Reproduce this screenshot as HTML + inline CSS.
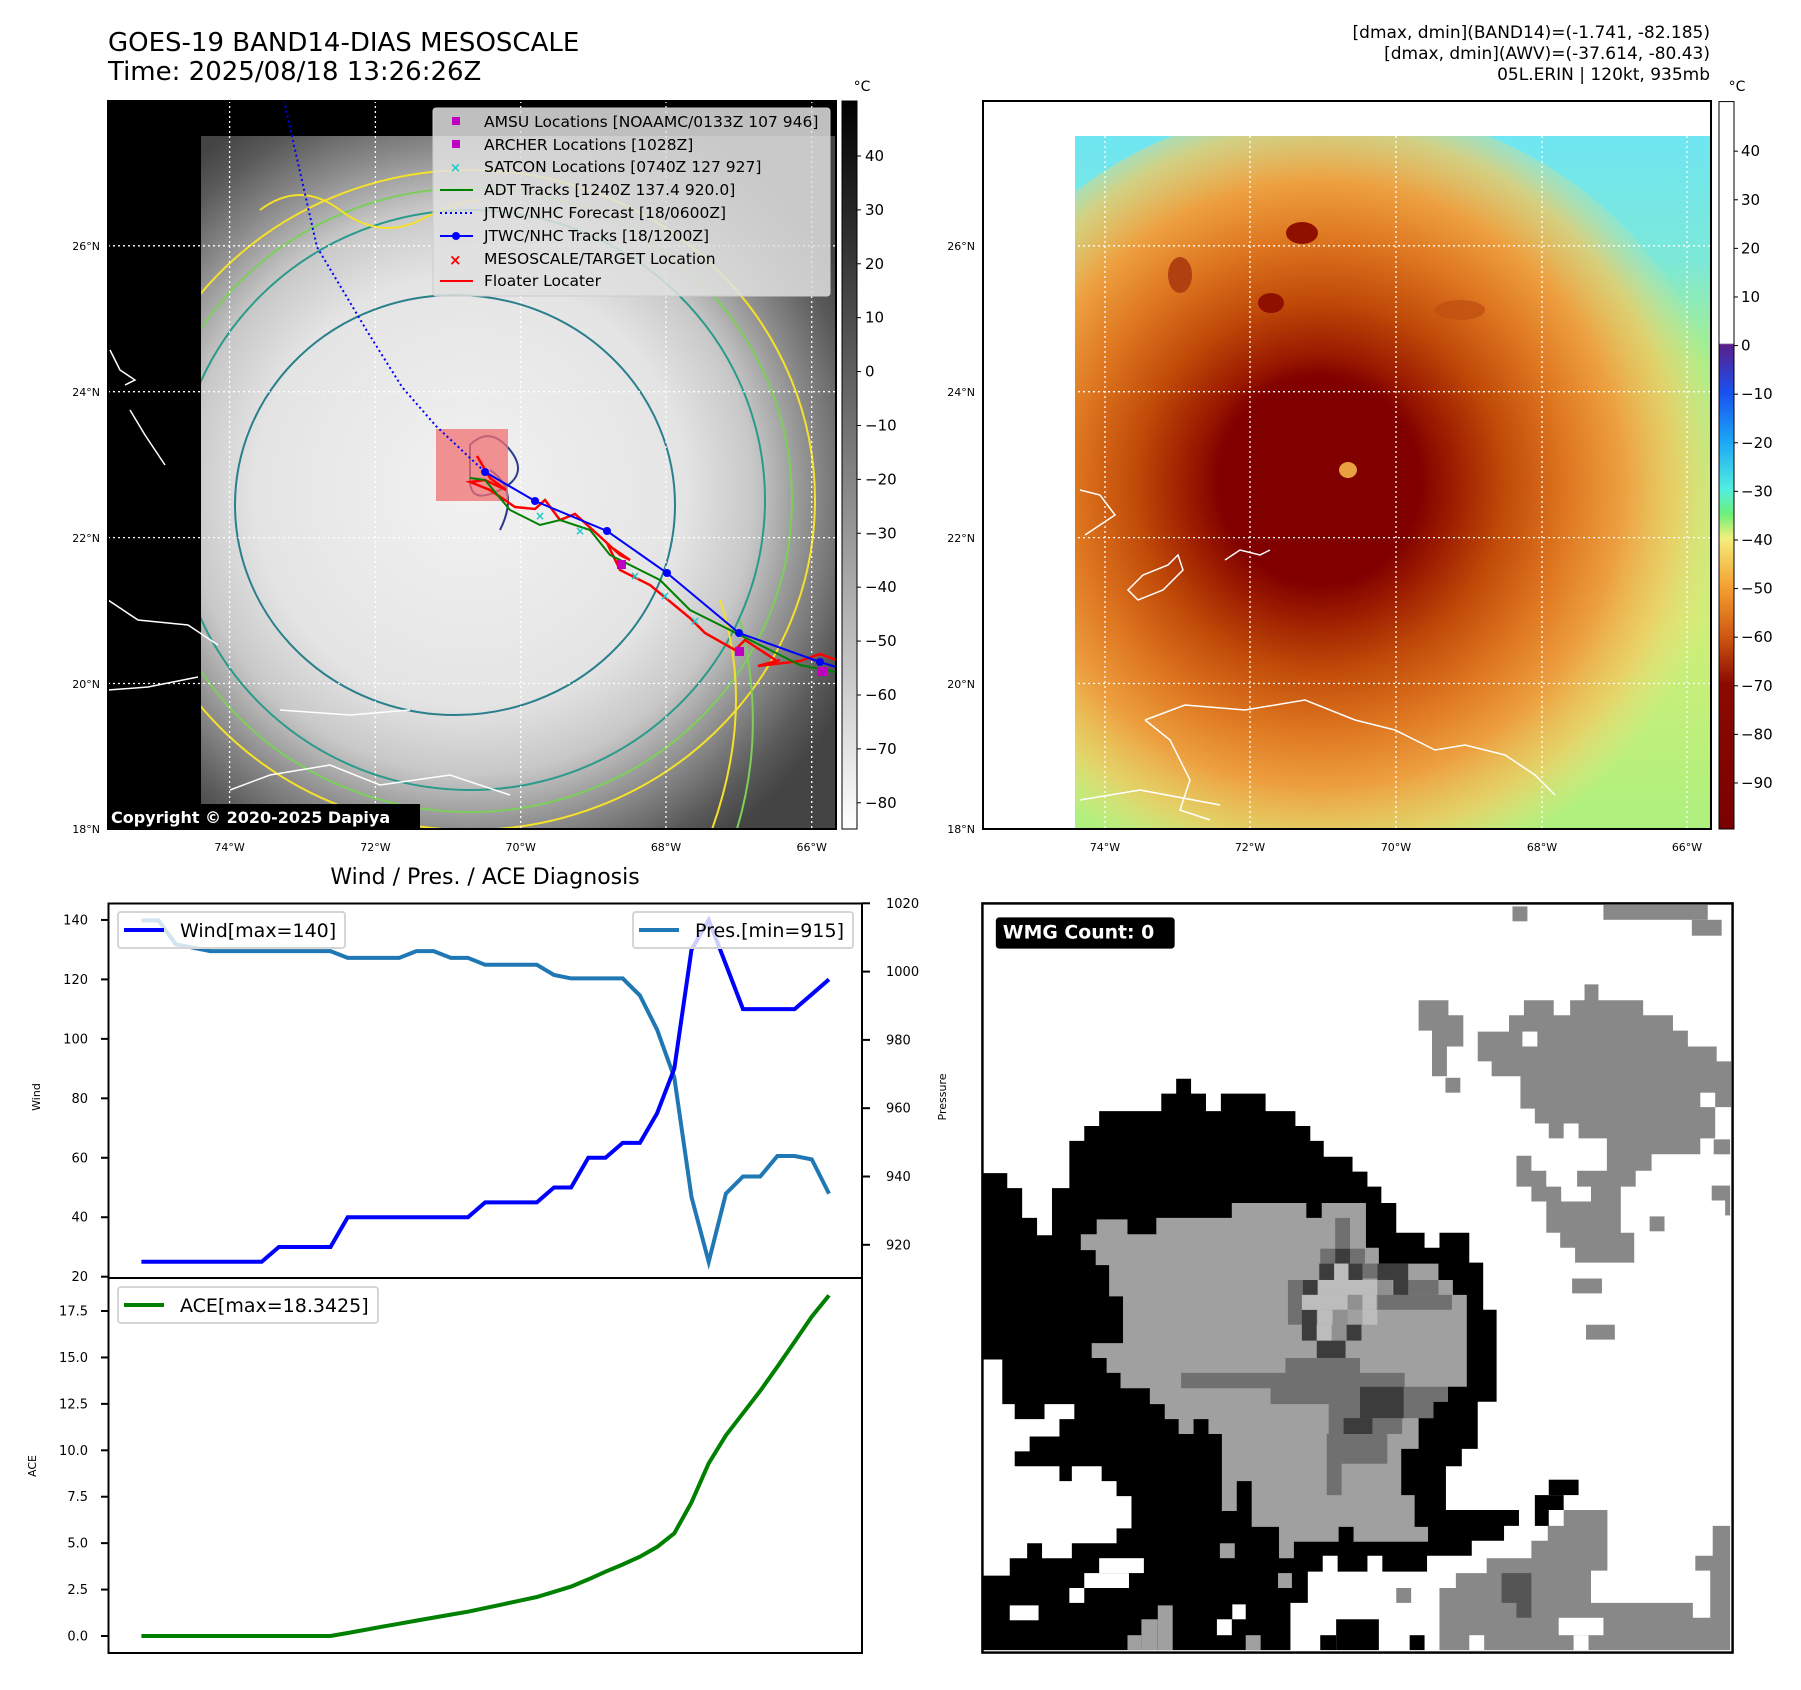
<!DOCTYPE html>
<html><head><meta charset="utf-8">
<style>
html,body{margin:0;padding:0;background:#fff;}
svg{display:block;font-family:"DejaVu Sans","Liberation Sans",sans-serif;}
</style></head>
<body>
<svg id="root" width="1801" height="1690" viewBox="0 0 1801 1690">
<defs>
  <radialGradient id="irGray" cx="470" cy="490" r="430" gradientUnits="userSpaceOnUse">
    <stop offset="0" stop-color="#f2f2f2"/>
    <stop offset="0.5" stop-color="#e4e4e4"/>
    <stop offset="0.66" stop-color="#c8c8c8"/>
    <stop offset="0.8" stop-color="#8a8a8a"/>
    <stop offset="0.92" stop-color="#5a5a5a"/>
    <stop offset="1" stop-color="#444"/>
  </radialGradient>
  <linearGradient id="cbGray" x1="0" y1="0" x2="0" y2="1">
    <stop offset="0" stop-color="#000"/><stop offset="1" stop-color="#fff"/>
  </linearGradient>
  <linearGradient id="cbColor" x1="0" y1="0" x2="0" y2="1">
    <stop offset="0" stop-color="#fff"/>
    <stop offset="0.332" stop-color="#fff"/>
    <stop offset="0.334" stop-color="#5a1f8a"/>
    <stop offset="0.399" stop-color="#1a4ff0"/>
    <stop offset="0.466" stop-color="#1aa6f5"/>
    <stop offset="0.533" stop-color="#52eee0"/>
    <stop offset="0.567" stop-color="#6cf07a"/>
    <stop offset="0.6" stop-color="#f3ef7c"/>
    <stop offset="0.667" stop-color="#f5a030"/>
    <stop offset="0.734" stop-color="#d05a12"/>
    <stop offset="0.8" stop-color="#8b0a00"/>
    <stop offset="1" stop-color="#7a0000"/>
  </linearGradient>
  <linearGradient id="awvBase" x1="0" y1="136" x2="0" y2="829" gradientUnits="userSpaceOnUse">
    <stop offset="0" stop-color="#6fe6f2"/>
    <stop offset="0.18" stop-color="#7ce8d8"/>
    <stop offset="0.32" stop-color="#a8ee8a"/>
    <stop offset="0.7" stop-color="#d0ee78"/>
    <stop offset="1" stop-color="#aef07e"/>
  </linearGradient>
  <radialGradient id="awvStorm" cx="1320" cy="485" r="410" gradientUnits="userSpaceOnUse">
    <stop offset="0" stop-color="#800000"/>
    <stop offset="0.24" stop-color="#800000"/>
    <stop offset="0.32" stop-color="#9a1a00"/>
    <stop offset="0.45" stop-color="#c04a08"/>
    <stop offset="0.6" stop-color="#de7620"/>
    <stop offset="0.74" stop-color="#eda040"/>
    <stop offset="0.87" stop-color="#f2c860" stop-opacity="0.75"/>
    <stop offset="1" stop-color="#f5e080" stop-opacity="0"/>
  </radialGradient>
  <filter id="soft" x="-50%" y="-50%" width="200%" height="200%"><feGaussianBlur stdDeviation="8"/></filter>
  <clipPath id="clipL"><rect x="201" y="136" width="635" height="693"/></clipPath>
  <clipPath id="clipR"><rect x="1075" y="136" width="636" height="693"/></clipPath>
</defs>

<text x="108" y="51" font-size="26">GOES-19 BAND14-DIAS MESOSCALE</text>
<text x="108" y="80" font-size="26">Time: 2025/08/18 13:26:26Z</text>
<g font-size="17" text-anchor="end">
  <text x="1710" y="38">[dmax, dmin](BAND14)=(-1.741, -82.185)</text>
  <text x="1710" y="59">[dmax, dmin](AWV)=(-37.614, -80.43)</text>
  <text x="1710" y="80">05L.ERIN | 120kt, 935mb</text>
</g>

<g>
  <rect x="108" y="101" width="728" height="728" fill="#000"/>
  <rect x="201" y="136" width="635" height="693" fill="url(#irGray)"/>
  <g clip-path="url(#clipL)" fill="none" stroke-width="2">
    <ellipse cx="470" cy="500" rx="345" ry="330" stroke="#f5e12a"/>
    <ellipse cx="470" cy="500" rx="322" ry="312" stroke="#7ccf5a"/>
    <ellipse cx="470" cy="500" rx="295" ry="290" stroke="#2a9a8a"/>
    <ellipse cx="455" cy="505" rx="220" ry="210" stroke="#2a7f8c"/>
    <path d="M260 210 q40 -30 80 0 t80 10 t60 -20" stroke="#f5e12a"/>
    <path d="M720 600 q40 120 -20 260" stroke="#f5e12a"/>
    <path d="M740 620 q30 120 -10 230" stroke="#7ccf5a"/>
    <path d="M470 445 q20 -20 40 5 t-10 40 t-30 -10 z" stroke="#2b3a8a"/>
    <path d="M490 470 q30 20 10 60" stroke="#2b3a8a"/>
  </g>
  <g stroke="#fff" stroke-width="1.3" stroke-dasharray="2,3">
    <line x1="229.6" y1="101" x2="229.6" y2="829"/><line x1="375.4" y1="101" x2="375.4" y2="829"/>
    <line x1="520.7" y1="101" x2="520.7" y2="829"/><line x1="666" y1="101" x2="666" y2="829"/>
    <line x1="811.7" y1="101" x2="811.7" y2="829"/>
    <line x1="108" y1="245.8" x2="836" y2="245.8"/><line x1="108" y1="391.7" x2="836" y2="391.7"/>
    <line x1="108" y1="537.6" x2="836" y2="537.6"/><line x1="108" y1="683.5" x2="836" y2="683.5"/>
  </g>
  <g fill="none" stroke="#fff" stroke-width="1.5">
    <path d="M110 350 l10 20 l15 10 l-10 5"/><path d="M130 410 l15 25 l20 30"/>
    <path d="M108 600 l30 20 l50 5 l30 20"/><path d="M108 690 l40 -3 l50 -10"/>
    <path d="M230 790 l40 -15 l60 -10 l50 20 l70 -10 l60 20"/>
    <path d="M280 710 l70 5 l60 -5"/>
  </g>
  <rect x="436" y="429" width="72" height="72" fill="#f07070" fill-opacity="0.75"/>
  <polyline points="284,101 317,247 367,331 402,387 436,426 485,472" fill="none" stroke="#0000ff" stroke-width="2" stroke-dasharray="2,3"/>
  <polyline points="477,456 490,478 506,490 485,480 470,482 490,490 515,507 535,509 545,500 560,520 575,514 595,532 620,555 630,560 608,545 620,570 650,585 690,618 705,633 735,650 745,640 777,661 780,660 758,666 800,661 820,654 836,660" fill="none" stroke="#ff0000" stroke-width="2.5"/>
  <polyline points="470,478 485,480 510,510 540,525 560,520 590,530 610,555 640,570 660,580 690,610 720,625 760,645 800,665 836,672" fill="none" stroke="#008000" stroke-width="2"/>
  <polyline points="485,472 535,501 607,531 667,573 739,633 820,662 836,667" fill="none" stroke="#0000ff" stroke-width="2"/>
  <g fill="#0000ff"><circle cx="485" cy="472" r="4"/><circle cx="535" cy="501" r="4"/><circle cx="607" cy="531" r="4"/><circle cx="667" cy="573" r="4"/><circle cx="739" cy="633" r="4"/><circle cx="820" cy="662" r="4"/></g>
  <g fill="#1ec8c8" font-size="12" font-weight="bold"><text x="535" y="520">×</text><text x="575" y="535">×</text><text x="630" y="580">×</text><text x="660" y="600">×</text><text x="690" y="625">×</text></g>
  <rect x="617" y="560" width="9" height="9" fill="#c000c0"/><rect x="735" y="647" width="9" height="9" fill="#c000c0"/><rect x="818" y="667" width="9" height="9" fill="#c000c0"/>
  <rect x="108" y="101" width="728" height="728" fill="none" stroke="#000" stroke-width="2"/>
  <rect x="107" y="804" width="313" height="25" fill="#000"/>
  <text x="111" y="823" fill="#fff" font-size="16" font-weight="bold">Copyright © 2020-2025 Dapiya</text>
  <g>
    <rect x="433" y="108" width="397" height="188" rx="3" fill="#e0e0e0" fill-opacity="0.85" stroke="#ccc"/>
    <g font-size="15.5">
      <rect x="452" y="117" width="8" height="8" fill="#c000c0"/><text x="484" y="127">AMSU Locations [NOAAMC/0133Z 107 946]</text>
      <rect x="452" y="140" width="8" height="8" fill="#c000c0"/><text x="484" y="150">ARCHER Locations [1028Z]</text>
      <text x="450" y="172" fill="#1ec8c8" font-weight="bold" font-size="13">×</text><text x="484" y="172">SATCON Locations [0740Z 127 927]</text>
      <line x1="440" y1="190" x2="473" y2="190" stroke="#008000" stroke-width="2"/><text x="484" y="195">ADT Tracks [1240Z 137.4 920.0]</text>
      <line x1="440" y1="213" x2="473" y2="213" stroke="#0000ff" stroke-width="2" stroke-dasharray="2,3"/><text x="484" y="218">JTWC/NHC Forecast [18/0600Z]</text>
      <line x1="440" y1="236" x2="473" y2="236" stroke="#0000ff" stroke-width="2"/><circle cx="456" cy="236" r="4" fill="#0000ff"/><text x="484" y="241">JTWC/NHC Tracks [18/1200Z]</text>
      <text x="449" y="265" fill="#ff0000" font-weight="bold" font-size="15">×</text><text x="484" y="264">MESOSCALE/TARGET Location</text>
      <line x1="440" y1="281" x2="473" y2="281" stroke="#ff0000" stroke-width="2"/><text x="484" y="286">Floater Locater</text>
    </g>
  </g>
  <g font-size="11" text-anchor="end">
    <text x="100" y="250">26°N</text><text x="100" y="396">24°N</text><text x="100" y="542">22°N</text><text x="100" y="688">20°N</text><text x="100" y="833">18°N</text>
  </g>
  <g font-size="11" text-anchor="middle">
    <text x="229.6" y="851">74°W</text><text x="375.4" y="851">72°W</text><text x="520.7" y="851">70°W</text><text x="666" y="851">68°W</text><text x="811.7" y="851">66°W</text>
  </g>
  <rect x="842" y="101" width="15" height="728" fill="url(#cbGray)" stroke="#000" stroke-width="1"/>
  <text x="862" y="91" font-size="14" text-anchor="middle">°C</text>
  <g id="cbLticks" font-size="15"></g>
</g>

<g>
  <rect x="983" y="101" width="728" height="728" fill="#fff"/>
  <rect x="1075" y="136" width="636" height="693" fill="url(#awvBase)"/>
  <g clip-path="url(#clipR)">
    <ellipse cx="1330" cy="505" rx="410" ry="400" fill="url(#awvStorm)"/>
    <circle cx="1318" cy="471" r="100" fill="#800000" filter="url(#soft)"/>
    <ellipse cx="1348" cy="470" rx="9" ry="8" fill="#e8a040"/>
    <ellipse cx="1302" cy="233" rx="16" ry="11" fill="#901000"/>
    <ellipse cx="1271" cy="303" rx="13" ry="10" fill="#901000"/>
    <ellipse cx="1180" cy="275" rx="12" ry="18" fill="#b04010"/>
    <ellipse cx="1460" cy="310" rx="25" ry="10" fill="#c05010" fill-opacity="0.8"/>
  </g>
  <g stroke="#fff" stroke-width="1.3" stroke-dasharray="2,3">
    <line x1="1105" y1="101" x2="1105" y2="829"/><line x1="1250" y1="101" x2="1250" y2="829"/>
    <line x1="1396" y1="101" x2="1396" y2="829"/><line x1="1542" y1="101" x2="1542" y2="829"/>
    <line x1="1687" y1="101" x2="1687" y2="829"/>
    <line x1="983" y1="245.8" x2="1711" y2="245.8"/><line x1="983" y1="391.7" x2="1711" y2="391.7"/>
    <line x1="983" y1="537.6" x2="1711" y2="537.6"/><line x1="983" y1="683.5" x2="1711" y2="683.5"/>
  </g>
  <g fill="none" stroke="#fff" stroke-width="1.5">
    <path d="M1080 490 l20 5 l15 20 l-30 20"/>
    <path d="M1168 565 l10 -10 l5 15 l-20 20 l-25 10 l-10 -10 l15 -15 z"/>
    <path d="M1225 560 l15 -10 l20 5 l10 -5"/>
    <path d="M1145 720 l40 -15 l60 5 l60 -10 l50 20 l40 10 l40 20 l30 -5 l40 10 l30 20 l20 20"/>
    <path d="M1145 720 l25 20 l20 40 l-10 30 l30 10"/>
    <path d="M1080 800 l60 -10 l80 15"/>
  </g>
  <rect x="983" y="101" width="728" height="728" fill="none" stroke="#000" stroke-width="2"/>
  <g font-size="11" text-anchor="end">
    <text x="975" y="250">26°N</text><text x="975" y="396">24°N</text><text x="975" y="542">22°N</text><text x="975" y="688">20°N</text><text x="975" y="833">18°N</text>
  </g>
  <g font-size="11" text-anchor="middle">
    <text x="1105" y="851">74°W</text><text x="1250" y="851">72°W</text><text x="1396" y="851">70°W</text><text x="1542" y="851">68°W</text><text x="1687" y="851">66°W</text>
  </g>
  <rect x="1719" y="101.6" width="15" height="727.4" fill="url(#cbColor)" stroke="#000" stroke-width="1"/>
  <text x="1737" y="91" font-size="14" text-anchor="middle">°C</text>
  <g id="cbRticks" font-size="15"></g>
</g>

<g>
<svg x="970" y="890" width="775" height="775" viewBox="0 0 1560 1560">
  <rect x="25" y="27" width="1510" height="1508" fill="#fff"/>
  <g fill="#888">
    <path d="M1085 252H1115V222H1175V252H1208V222H1237V190H1265V222H1355V252H1415V283H1445V315H1503V345H1532V437H1500V500H1470V532H1372V565H1340V597H1310V690H1337V750H1218V720H1188V690H1160V627H1130V597H1100V535H1130V565H1160V597H1190V627H1250V597H1222V565H1282V500H1225V470H1195V500H1165V470H1137V440H1108V375H1050V345H1022V285H1085Z"/>
    <path d="M903 222H963V252H993V315H960V375H930V283H903Z"/>
    <rect x="957" y="378" width="30" height="30"/><rect x="1092" y="33" width="30" height="30"/>
    <rect x="1275" y="30" width="210" height="30"/><rect x="1453" y="60" width="60" height="32"/>
    <rect x="1497" y="502" width="33" height="30"/><rect x="1493" y="595" width="37" height="30"/><rect x="1520" y="625" width="10" height="30"/>
    <rect x="1368" y="657" width="30" height="30"/><rect x="1212" y="782" width="60" height="30"/><rect x="1240" y="875" width="58" height="30"/>
    <path d="M1195 1248H1283V1370H1250V1435H1455V1465H1490V1370H1460V1340H1495V1280H1530V1530H945V1405H978V1375H1040V1345H1130V1310H1163V1280H1195Z"/>
    <rect x="858" y="1405" width="30" height="30"/>
  </g>
  <g fill="#fff"><rect x="1112" y="285" width="30" height="30"/><rect x="1470" y="408" width="30" height="29"/>
    <rect x="1185" y="1465" width="90" height="35"/><rect x="1005" y="1500" width="30" height="30"/><rect x="1215" y="1500" width="30" height="30"/></g>
  <path d="M1070 1375H1130V1465H1100V1435H1070Z" fill="#555"/>
  <g fill="#000">
    <path d="M25 570H75V600H105V660H135V695H165V600H200V505H230V475H260V445H385V410H415V380H445V410H475V445H505V410H595V445H655V475H685V505H712V537H770V567H800V597H828V630H858V690H915V720H945V690H1005V750H1033V845H1060V1030H1022V1125H990V1160H958V1248H1105V1280H1075V1310H1010V1340H920V1372H830V1340H800V1372H740V1340H710V1372H680V1435H645V1530H25Z"/>
    <rect x="737" y="1468" width="86" height="62"/><rect x="705" y="1500" width="32" height="30"/><rect x="885" y="1500" width="30" height="30"/>
    <rect x="1165" y="1187" width="60" height="31"/><rect x="1137" y="1218" width="58" height="30"/><rect x="1137" y="1248" width="28" height="32"/>
  </g>
  <g fill="#fff">
    <path d="M35 945H65V1035H90V1065H150V1035H210V1065H180V1100H120V1130H90V1160H180V1190H205V1160H265V1190H295V1220H325V1285H295V1315H205V1345H145V1315H115V1345H80V1380H25V945Z"/>
    <rect x="260" y="1345" width="90" height="30"/><rect x="230" y="1375" width="90" height="30"/><rect x="200" y="1405" width="30" height="30"/>
    <rect x="80" y="1440" width="58" height="30"/><rect x="528" y="1438" width="27" height="30"/><rect x="497" y="1468" width="30" height="32"/>
  </g>
  <g fill="#a0a0a0">
    <path d="M527 630H677V660H708V630H797V720H823V752H943V785H972V815H1000V1000H962V1030H933V1063H903V1125H868V1218H895V1282H922V1312H772V1282H742V1312H652V1345H622V1282H567V1190H537V1250H507V1095H480V1065H450V1095H420V1065H392V1035H362V1003H303V972H275V942H245V912H308V818H280V755H253V725H223V693H255V663H317V693H375V660H527Z"/>
    <rect x="503" y="1315" width="30" height="30"/><rect x="620" y="1375" width="28" height="30"/>
    <rect x="378" y="1440" width="30" height="90"/><rect x="345" y="1468" width="33" height="62"/><rect x="317" y="1500" width="28" height="30"/><rect x="555" y="1500" width="30" height="30"/>
  </g>
  <g fill="#707070">
    <path d="M425 972H635V942H785V972H875V1000H962V1030H933V1063H870V1095H840V1155H748V1218H718V1095H722V1035H605V1003H425Z"/>
    <rect x="735" y="660" width="30" height="62"/><rect x="820" y="815" width="150" height="30"/><rect x="880" y="785" width="63" height="30"/>
    <rect x="705" y="722" width="30" height="30"/><rect x="765" y="722" width="30" height="30"/><rect x="640" y="785" width="30" height="90"/><rect x="790" y="752" width="30" height="30"/>
  </g>
  <g fill="#3c3c3c">
    <rect x="785" y="1000" width="88" height="63"/><rect x="752" y="1063" width="58" height="32"/>
    <rect x="735" y="722" width="30" height="30"/><rect x="703" y="752" width="30" height="33"/><rect x="762" y="752" width="28" height="33"/>
    <rect x="820" y="752" width="62" height="33"/><rect x="852" y="785" width="30" height="30"/><rect x="670" y="785" width="30" height="30"/>
    <rect x="668" y="845" width="30" height="62"/><rect x="698" y="907" width="58" height="35"/><rect x="758" y="875" width="30" height="32"/>
  </g>
  <g fill="#bcbcbc">
    <rect x="700" y="785" width="120" height="30"/><rect x="668" y="815" width="150" height="30"/><rect x="700" y="845" width="30" height="30"/>
    <rect x="790" y="845" width="30" height="30"/><rect x="698" y="875" width="30" height="32"/><rect x="733" y="752" width="28" height="33"/>
  </g>
  <g fill="#909090"><rect x="730" y="845" width="30" height="30"/><rect x="760" y="815" width="30" height="30"/><rect x="728" y="875" width="30" height="32"/><rect x="820" y="785" width="30" height="30"/></g>
  <rect x="25" y="27" width="1510" height="1508" fill="none" stroke="#000" stroke-width="5"/>
  <rect x="52" y="55" width="360" height="63" rx="7" fill="#000"/>
  <text x="66" y="98" fill="#fff" font-size="38" font-weight="bold">WMG Count: 0</text>
</svg>
</g>

<g id="ts">
  <text x="485" y="884" font-size="22" text-anchor="middle">Wind / Pres. / ACE Diagnosis</text>
  <text transform="translate(40,1097) rotate(-90)" font-size="11" text-anchor="middle">Wind</text>
  <text transform="translate(946,1097) rotate(-90)" font-size="11" text-anchor="middle">Pressure</text>
  <text transform="translate(36,1466) rotate(-90)" font-size="11" text-anchor="middle">ACE</text>
  <g id="tsMarks"></g>
  <rect x="108.5" y="903.5" width="753.5" height="374.5" fill="none" stroke="#000" stroke-width="2"/>
  <rect x="108.5" y="1278" width="753.5" height="375" fill="none" stroke="#000" stroke-width="2"/>
  <g>
    <rect x="118" y="912" width="227" height="36" rx="3" fill="#fff" fill-opacity="0.8" stroke="#d5d5d5" stroke-width="2"/>
    <line x1="124" y1="930" x2="164" y2="930" stroke="#0000ff" stroke-width="4"/>
    <text x="180" y="937" font-size="19">Wind[max=140]</text>
  </g>
  <g>
    <rect x="633" y="912" width="220" height="36" rx="3" fill="#fff" fill-opacity="0.8" stroke="#d5d5d5" stroke-width="2"/>
    <line x1="639" y1="930" x2="679" y2="930" stroke="#1f77b4" stroke-width="4"/>
    <text x="695" y="937" font-size="19">Pres.[min=915]</text>
  </g>
  <g>
    <rect x="118" y="1287" width="260" height="36" rx="3" fill="#fff" fill-opacity="0.8" stroke="#d5d5d5" stroke-width="2"/>
    <line x1="124" y1="1305" x2="164" y2="1305" stroke="#008000" stroke-width="4"/>
    <text x="180" y="1312" font-size="19">ACE[max=18.3425]</text>
  </g>
</g>

<script>
const windValues = [25,25,25,25,25,25,25,25,30,30,30,30,40,40,40,40,40,40,40,40,45,45,45,45,50,50,60,60,65,65,75,90,130,140,125,110,110,110,110,115,120];
const presValues = [1015,1015,1008,1007,1006,1006,1006,1006,1006,1006,1006,1006,1004,1004,1004,1004,1006,1006,1004,1004,1002,1002,1002,1002,999,998,998,998,998,993,983,969,934,915,935,940,940,946,946,945,935];
const aceValues = [0,0,0,0,0,0,0,0,0,0,0,0,0.16,0.33,0.5,0.66,0.83,0.99,1.15,1.31,1.5,1.7,1.9,2.1,2.38,2.66,3.05,3.46,3.85,4.27,4.8,5.53,7.2,9.3,10.8,12.0,13.2,14.5,15.85,17.2,18.34];
const windTicks = [20,40,60,80,100,120,140];
const presTicks = [920,940,960,980,1000,1020];
const aceTicks = [0.0,2.5,5.0,7.5,10.0,12.5,15.0,17.5];
const irCbTicks = [40,30,20,10,0,-10,-20,-30,-40,-50,-60,-70,-80];
const awvCbTicks = [40,30,20,10,0,-10,-20,-30,-40,-50,-60,-70,-80,-90];

const n = windValues.length;
function xs(i){ return 141.4 + i*(829-141.4)/(n-1); }
function yW(v){ return 1276.7 - (v-20)*2.973; }
function yP(p){ return 903.3 + (1020-p)*3.415; }
function yA(a){ return 1636 - a*18.57; }
function yIR(v){ return 101 + (50.2 - v)*5.39; }
function yAWV(v){ return 101.6 + (50.2 - v)*4.86; }

const NS = 'http://www.w3.org/2000/svg';
function mk(tag, attrs, parent){ const e=document.createElementNS(NS,tag); for(const k in attrs) e.setAttribute(k,attrs[k]); parent.appendChild(e); return e; }
const marks = document.getElementById('tsMarks');

function line(vals, yf, color, name){
  const pts = vals.map((v,i)=>xs(i).toFixed(1)+','+yf(v).toFixed(1)).join(' ');
  const el = mk('polyline',{points:pts,fill:'none',stroke:color,'stroke-width':4,'stroke-linejoin':'miter'},marks);
  
  
}
line(presValues, yP, '#1f77b4', 'pressure-line');
line(windValues, yW, '#0000ff', 'wind-line');
line(aceValues, yA, '#008000', 'ace-line');

function tickL(v, y, label, name){
  mk('line',{x1:101,y1:y,x2:108,y2:y,stroke:'#000','stroke-width':2},marks);
  const t = mk('text',{x:88,y:y+4.5,'font-size':13,'text-anchor':'end'},marks);
  t.textContent = label;
  
  
}
windTicks.forEach(v=>tickL(v, yW(v), String(v), 'wind-tick-label'));
aceTicks.forEach(v=>tickL(v, yA(v), v.toFixed(1), 'ace-tick-label'));
presTicks.forEach(p=>{
  const y = yP(p);
  mk('line',{x1:862,y1:y,x2:870,y2:y,stroke:'#000','stroke-width':2},marks);
  const t = mk('text',{x:886,y:y+4.5,'font-size':13},marks);
  t.textContent = String(p);
  
  
});

const cbL = document.getElementById('cbLticks');
irCbTicks.forEach(v=>{
  const y = yIR(v);
  mk('line',{x1:857,y1:y,x2:861,y2:y,stroke:'#000'},cbL);
  const t = mk('text',{x:865,y:y+5},cbL);
  t.textContent = v<0 ? '\u2212'+Math.abs(v) : String(v);
  
  
});
const cbR = document.getElementById('cbRticks');
awvCbTicks.forEach(v=>{
  const y = yAWV(v);
  mk('line',{x1:1734,y1:y,x2:1738,y2:y,stroke:'#000'},cbR);
  const t = mk('text',{x:1741,y:y+5},cbR);
  t.textContent = v<0 ? '\u2212'+Math.abs(v) : String(v);
  
  
});
</script>
</svg>
</body></html>
